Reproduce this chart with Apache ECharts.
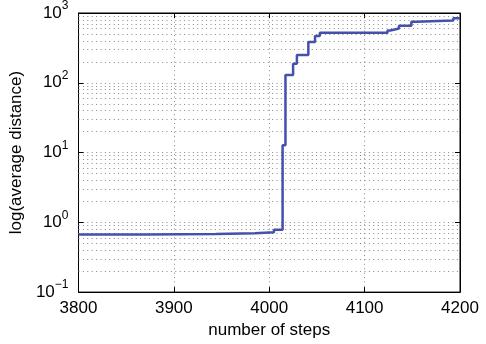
<!DOCTYPE html>
<html><head><meta charset="utf-8">
<script src="https://cdn.jsdelivr.net/npm/echarts@6/dist/echarts.min.js"></script>
<style>html,body{margin:0;padding:0;background:#fff}#c{width:486px;height:344px}</style>
</head><body><div id="c"></div>
<script>
var steps = [3800, 3871, 3944, 3985, 4005, 4014, 4017, 4025, 4029, 4041, 4048, 4053, 4124, 4127, 4136, 4149, 4154, 4193, 4200];
var avgDist = [0.67, 0.68, 0.70, 0.72, 0.78, 12.7, 129, 188, 251, 385, 468, 521, 560, 598, 659, 750, 782, 843, 843];
var xTicks = [3800, 3900, 4000, 4100, 4200];
var yDecades = [0.1, 1, 10, 100, 1000];
var minorMults = [2, 3, 4, 5, 6, 7, 8, 9];

var data = steps.map(function (s, i) { return [s, avgDist[i]]; });
var minorLines = [];
yDecades.slice(0, -1).forEach(function (d) {
  minorMults.forEach(function (m) { minorLines.push({ yAxis: d * m }); });
});
var FONT = 'Liberation Sans';
var gridStyle = { type: [1, 3.4], color: '#888', width: 1 };

var chart = echarts.init(document.getElementById('c'), null, { renderer: 'canvas' });
chart.setOption({
  animation: false,
  backgroundColor: '#fff',
  grid: { left: 69, right: 26, top: 13, bottom: 44, show: true, borderColor: '#000', borderWidth: 1, backgroundColor: 'transparent' },
  xAxis: [{
    type: 'value', min: xTicks[0], max: xTicks[xTicks.length - 1], interval: 100,
    name: 'number of steps', nameLocation: 'middle', nameGap: 29,
    nameTextStyle: { fontFamily: FONT, fontSize: 17, color: '#000' },
    axisLine: { show: true, lineStyle: { color: '#000', width: 1 } },
    axisTick: { show: true, inside: true, length: 5, lineStyle: { color: '#000' } },
    axisLabel: { fontFamily: FONT, fontSize: 17, color: '#000', margin: 8, formatter: function (v) { return String(v); } },
    splitLine: { show: true, lineStyle: gridStyle }
  }, {
    type: 'value', position: 'top', min: xTicks[0], max: xTicks[xTicks.length - 1], interval: 100,
    axisLine: { show: true, lineStyle: { color: '#000', width: 1 } },
    axisTick: { show: true, inside: true, length: 5, lineStyle: { color: '#000' } },
    axisLabel: { show: false }, splitLine: { show: false }
  }],
  yAxis: [{
    type: 'log', logBase: 10, min: 0.1, max: 1000,
    name: 'log(average distance)', nameLocation: 'middle', nameGap: 44,
    nameTextStyle: { fontFamily: FONT, fontSize: 17, color: '#000' },
    axisLine: { show: true, lineStyle: { color: '#000', width: 1 } },
    axisTick: { show: true, inside: true, length: 5, lineStyle: { color: '#000' } },
    axisLabel: {
      margin: 10,
      formatter: function (v) {
        var e = Math.round(Math.log10(v));
        return '{b|10}{s|' + (e < 0 ? '\u2212' + (-e) : e) + '}';
      },
      rich: {
        b: { fontFamily: FONT, fontSize: 17, color: '#000' },
        s: { fontFamily: FONT, fontSize: 12, color: '#000', padding: [0, 0, 14, 0] }
      }
    },
    splitLine: { show: true, lineStyle: gridStyle }
  }, {
    type: 'log', logBase: 10, min: 0.1, max: 1000, position: 'right',
    axisLine: { show: true, lineStyle: { color: '#000', width: 1 } },
    axisTick: { show: true, inside: true, length: 5, lineStyle: { color: '#000' } },
    axisLabel: { show: false }, splitLine: { show: false }
  }],
  series: [{
    type: 'line', data: data, step: 'end', showSymbol: false, symbol: 'none',
    xAxisIndex: 0, yAxisIndex: 0, z: 5,
    lineStyle: { color: '#4450ac', width: 2.5 },
    markLine: {
      silent: true, symbol: 'none', label: { show: false }, animation: false,
      lineStyle: gridStyle, z: 1, emphasis: { disabled: true },
      data: minorLines
    }
  }]
});
</script></body></html>
